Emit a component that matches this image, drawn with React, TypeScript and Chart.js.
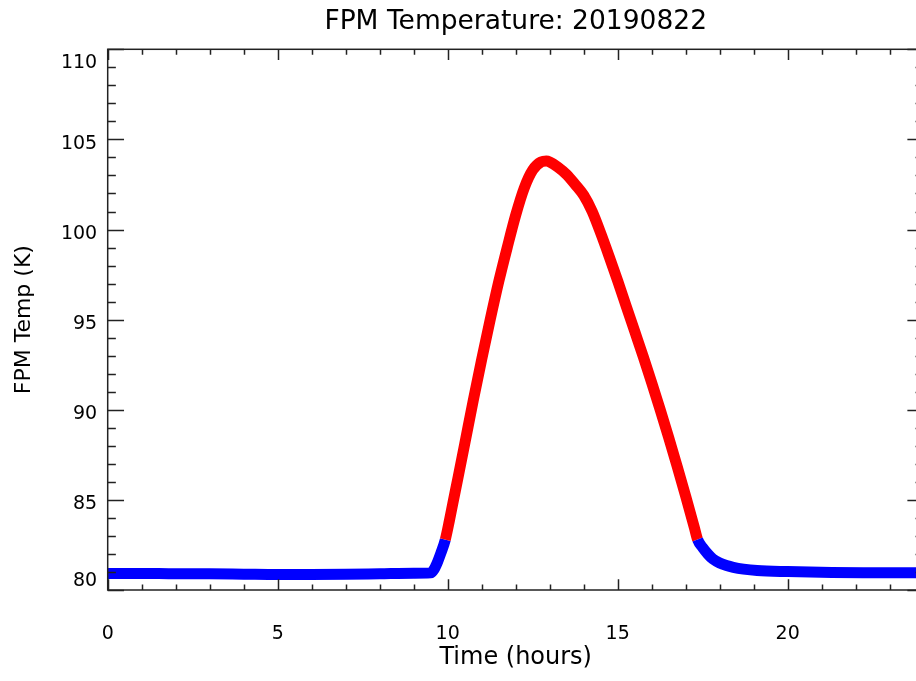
import React, { useEffect, useRef } from "react";
import { Chart, registerables } from "chart.js";

Chart.register(...registerables);

const chartTitle = "FPM Temperature: 20190822";
const xAxisTitle = "Time (hours)";
const yAxisTitle = "FPM Temp (K)";

// time (hours) and FPM temperature (K)
const hours = [
  0, 1, 2, 3, 4, 5, 6, 7, 8, 9, 9.5, 9.6, 9.7, 9.8, 9.93, 10.05, 10.15, 10.3,
  10.5, 10.75, 11.0, 11.25, 11.5, 11.75, 12.0, 12.25, 12.5, 12.75, 12.9, 13.0,
  13.25, 13.5, 13.75, 14.0, 14.25, 14.5, 14.75, 15.0, 15.25, 15.5, 15.75, 16.0,
  16.25, 16.5, 16.75, 17.0, 17.25, 17.35, 17.5, 17.65, 17.8, 18.0, 18.2, 18.4,
  18.7, 19.1, 20.0, 21.3, 22.5, 23.7, 24.0,
];
const fpmTempK = [
  80.92, 80.92, 80.9, 80.9, 80.88, 80.86, 80.86, 80.87, 80.9, 80.93, 80.95,
  81.15, 81.55, 82.05, 82.8, 83.85, 84.8, 86.2, 88.1, 90.5, 92.8, 95.0, 97.1,
  99.0, 100.8, 102.3, 103.3, 103.75, 103.8, 103.75, 103.45, 103.05, 102.5,
  101.9, 101.0, 99.8, 98.5, 97.15, 95.75, 94.35, 92.95, 91.5, 90.0, 88.45,
  86.85, 85.2, 83.5, 82.8, 82.35, 82.0, 81.72, 81.5, 81.36, 81.26, 81.16,
  81.08, 81.02, 80.97, 80.96, 80.96, 80.96,
];
const warmThresholdK = 82.8;

const xMin = 0;
const xMax = 24;
const yMin = 80;
const yMax = 110;
const xMajorTicks = [0, 5, 10, 15, 20];
const xTickLabels = ["0", "5", "10", "15", "20"];
const xMinorTicks = [
  0, 1, 2, 3, 4, 5, 6, 7, 8, 9, 10, 11, 12, 13, 14, 15, 16, 17, 18, 19, 20, 21,
  22, 23, 24,
];
const yMajorTicks = [80, 85, 90, 95, 100, 105, 110];
const yTickLabels = ["80", "85", "90", "95", "100", "105", "110"];
const yMinorTicks = [
  80, 81, 82, 83, 84, 85, 86, 87, 88, 89, 90, 91, 92, 93, 94, 95, 96, 97, 98,
  99, 100, 101, 102, 103, 104, 105, 106, 107, 108, 109, 110,
];

const FONT = '"DejaVu Sans", "Liberation Sans", Arial, sans-serif';
const RED = "#ff0000";
const BLUE = "#0000ff";
const AXIS = "#222222";

const idlAxesPlugin = {
  id: "idlAxes",
  afterDraw(chart: any) {
    const { ctx, chartArea: a } = chart;
    const xs = chart.scales.x;
    const ys = chart.scales.y;
    const w = a.right - a.left;
    const h = a.bottom - a.top;
    const yMajLen = 0.02 * w;
    const xMajLen = 0.02 * h;
    ctx.save();
    ctx.strokeStyle = AXIS;
    ctx.lineWidth = 1.5;
    ctx.strokeRect(a.left, a.top, w, h);
    ctx.beginPath();
    xMinorTicks.forEach((v) => {
      const len = xMajorTicks.includes(v) ? xMajLen : xMajLen / 2;
      const px = Math.round(xs.getPixelForValue(v)) + 0.5;
      ctx.moveTo(px, a.bottom);
      ctx.lineTo(px, a.bottom - len);
      ctx.moveTo(px, a.top);
      ctx.lineTo(px, a.top + len);
    });
    yMinorTicks.forEach((v) => {
      const len = yMajorTicks.includes(v) ? yMajLen : yMajLen / 2;
      const py = Math.round(ys.getPixelForValue(v)) + 0.5;
      ctx.moveTo(a.left, py);
      ctx.lineTo(a.left + len, py);
      ctx.moveTo(a.right, py);
      ctx.lineTo(a.right - len, py);
    });
    ctx.stroke();

    // y tick labels (IDL style: end labels nudged inside the axis range)
    ctx.fillStyle = "#000";
    ctx.font = `19px ${FONT}`;
    ctx.textAlign = "right";
    ctx.textBaseline = "middle";
    yMajorTicks.forEach((v, i) => {
      let py = ys.getPixelForValue(v) + 4.5;
      if (i === 0) py = ys.getPixelForValue(v) - 9;
      if (i === yMajorTicks.length - 1) py = ys.getPixelForValue(v) + 14;
      ctx.fillText(yTickLabels[i], a.left - 10.5, py);
    });
    ctx.restore();
  },
};

export default function App() {
  const canvasRef = useRef<HTMLCanvasElement | null>(null);

  useEffect(() => {
    const canvas = canvasRef.current;
    if (!canvas) return;
    Chart.defaults.font.family = FONT;
    const isWarm = (c: any) =>
      c.p0.parsed.y >= warmThresholdK - 1e-9 &&
      c.p1.parsed.y >= warmThresholdK - 1e-9;

    const chart = new Chart(canvas, {
      type: "line",
      data: {
        datasets: [
          {
            label: "FPM Temp",
            data: hours.map((t, i) => ({ x: t, y: fpmTempK[i] })),
            borderColor: BLUE,
            borderWidth: 11,
            borderJoinStyle: "round",
            cubicInterpolationMode: "monotone",
            pointRadius: 0,
            fill: false,
            segment: {
              borderColor: (c: any) => (isWarm(c) ? RED : BLUE),
            },
          },
        ],
      },
      options: {
        responsive: false,
        animation: false,
        devicePixelRatio: 1,
        layout: { padding: { left: 0, right: 16.3, top: 0, bottom: 0 } },
        plugins: {
          legend: { display: false },
          tooltip: { enabled: false },
          title: {
            display: true,
            text: chartTitle,
            fullSize: false,
            color: "#000",
            font: { family: FONT, size: 26.5, weight: "normal" },
            padding: { top: 6, bottom: 11.5 },
          },
        },
        scales: {
          x: {
            type: "linear",
            min: xMin,
            max: xMax,
            grid: { display: false },
            border: { display: false },
            afterBuildTicks: (s: any) => {
              s.ticks = xMajorTicks.map((v) => ({ value: v }));
            },
            afterFit: (s: any) => {
              s.height = 91;
            },
            ticks: {
              autoSkip: false,
              maxRotation: 0,
              padding: 25,
              color: "#000",
              font: { family: FONT, size: 19 },
              callback: (v: any) => {
                const i = xMajorTicks.indexOf(Number(v));
                return i >= 0 ? xTickLabels[i] : "";
              },
            },
            title: {
              display: true,
              text: xAxisTitle,
              color: "#000",
              font: { family: FONT, size: 24 },
              padding: { top: 0, bottom: 9 },
            },
          },
          y: {
            type: "linear",
            min: yMin,
            max: yMax,
            grid: { display: false },
            border: { display: false },
            afterFit: (s: any) => {
              s.width = 107.7;
            },
            ticks: { display: false },
            title: {
              display: true,
              text: yAxisTitle,
              color: "#000",
              font: { family: FONT, size: 22 },
              padding: { top: 11, bottom: 0 },
            },
          },
        },
      },
      plugins: [idlAxesPlugin],
    } as any);

    return () => chart.destroy();
  }, []);

  return (
    <div
      style={{
        position: "fixed",
        left: 0,
        top: 0,
        width: 916,
        height: 681,
        overflow: "hidden",
        background: "#fff",
      }}
    >
      <canvas
        ref={canvasRef}
        width={940}
        height={681}
        style={{ display: "block", width: 940, height: 681 }}
      />
    </div>
  );
}
